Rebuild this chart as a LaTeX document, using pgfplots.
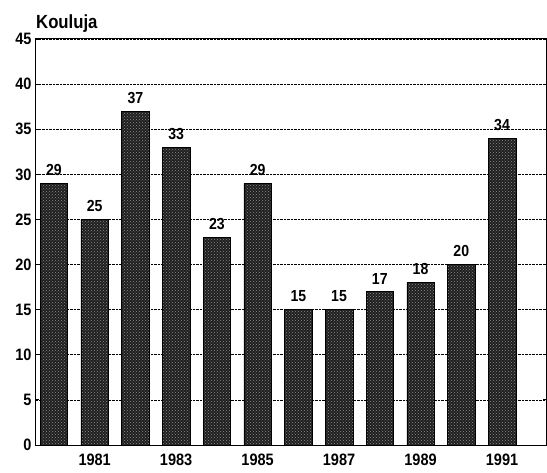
\documentclass[border=0pt]{standalone}
\usepackage{pgfplots}
\pgfplotsset{compat=1.18}
\usepackage{fontspec}
\setmainfont{Liberation Sans}[FakeStretch=0.88]
\usetikzlibrary{patterns}
\begin{document}
\begin{tikzpicture}
\begin{axis}[
  width=510pt, height=406pt, scale only axis,
  xmin=1979.56, xmax=1992.08, ymin=0, ymax=45,
  ytick={0,5,...,45},
  xtick={1981,1983,...,1991},
  /pgf/number format/1000 sep=,
  /pgf/number format/assume math mode=true,
  ymajorgrids, grid style={densely dotted, black, line width=0.6pt},
  axis line style={line width=1pt},
  ticklabel style={font=\fontsize{16.5}{17}\selectfont\bfseries},
  x tick style={draw=none},
  y tick style={line width=0.8pt, black},
  major tick length=3pt,
  xticklabel style={yshift=-2pt},
  yticklabel style={xshift=-1pt},
  ybar, bar width=27.5pt,
  nodes near coords,
  nodes near coords style={font=\fontsize{16}{17}\selectfont\bfseries, anchor=south, yshift=4pt},
  clip=false,
]
\addplot[draw=black, line width=0.5pt, fill=black!88,
  postaction={pattern=crosshatch dots, pattern color=white!55!black}]
  coordinates {(1980,29) (1981,25) (1982,37) (1983,33) (1984,23) (1985,29)
               (1986,15) (1987,15) (1988,17) (1989,18) (1990,20) (1991,34)};
\node[anchor=base west, inner sep=0pt, font=\fontsize{19}{20}\selectfont\bfseries]
  at ([yshift=10pt]rel axis cs:0,1) {Kouluja};
\coordinate (O) at (rel axis cs:0,0);
\coordinate (TR) at (rel axis cs:1,1);
\end{axis}
\path ([shift={(-36pt,-27pt)}]O) rectangle ([shift={(1pt,39pt)}]TR);
\end{tikzpicture}
\end{document}
